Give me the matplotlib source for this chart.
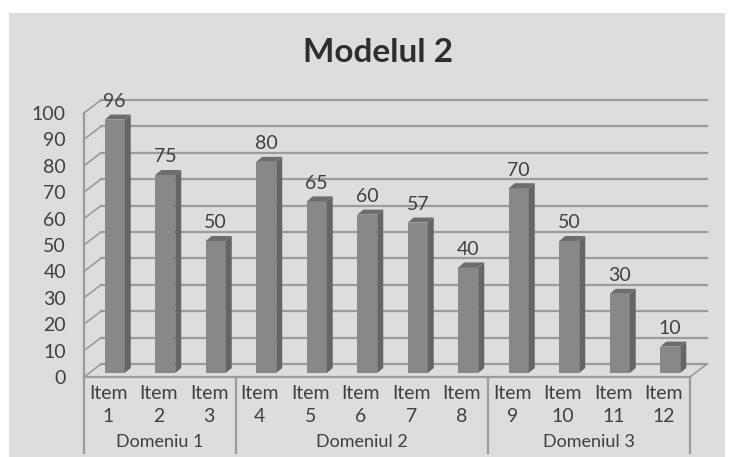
import matplotlib
matplotlib.use("Agg")
import matplotlib.pyplot as plt
from matplotlib.patches import Polygon, Rectangle

plt.rcParams["font.family"] = ["Lato", "DejaVu Sans"]

ITEMS = ["Item\n1", "Item\n2", "Item\n3", "Item\n4", "Item\n5", "Item\n6",
         "Item\n7", "Item\n8", "Item\n9", "Item\n10", "Item\n11", "Item\n12"]
VALUES = [96, 75, 50, 80, 65, 60, 57, 40, 70, 50, 30, 10]
DOMAINS = ["Domeniu 1", "Domeniul 2", "Domeniul 3"]
DOMAIN_SIZES = [3, 5, 4]
YTICKS = [0, 10, 20, 30, 40, 50, 60, 70, 80, 90, 100]
TITLE = "Modelul 2"

W, H = 736, 457
TEXT = "#404040"
LINE = "#9a9b9d"
FRONT = "#87888a"
SIDE = "#646567"
TOP = "#6c6d6f"
BG = "#dcddde"

# plot box in pixels, front plane
LEFT, RIGHT = 84, 690
Y0, Y100 = 377, 113

PX_X = (RIGHT - LEFT) / 12
PX_Y = (Y0 - Y100) / 100
DEPTH_X = 17 / PX_X
DEPTH_Y = 13 / PX_Y
BAR_SHIFT = 5.5 / PX_X
BAR_BASE = 4 / PX_Y
BAR_W = 20 / PX_X
BAR_DX = 6 / PX_X
BAR_DY = 5 / PX_Y


def main():
    fig = plt.figure(figsize=(W / 100, H / 100), dpi=100, facecolor="white")
    fig.add_artist(Rectangle((9 / W, 0), 716 / W, 1 - 13 / H, transform=fig.transFigure,
                             facecolor=BG, edgecolor="none", zorder=-1))

    ax = fig.add_axes([LEFT / W, 1 - Y0 / H, (RIGHT - LEFT) / W, (Y0 - Y100) / H])
    ax.set_xlim(0, 12)
    ax.set_ylim(0, 100)
    ax.patch.set_alpha(0)
    for spine in ax.spines.values():
        spine.set_visible(False)
    ax.set_xticks([])
    ax.set_yticks(YTICKS)
    ax.set_yticklabels([str(t) for t in YTICKS], fontsize=14, color=TEXT)
    ax.tick_params(axis="y", length=0, pad=13)

    # gridlines on the back wall plus the slanted bits on the side wall
    for t in YTICKS:
        ax.plot([DEPTH_X, 12 + DEPTH_X], [t + DEPTH_Y, t + DEPTH_Y], color=LINE, lw=1.6,
                clip_on=False, zorder=1)
        ax.plot([0, DEPTH_X], [t, t + DEPTH_Y], color=LINE, lw=1.2, clip_on=False, zorder=1)
    ax.plot([12, 12 + DEPTH_X], [0, DEPTH_Y], color=LINE, lw=1.2, clip_on=False, zorder=1)
    ax.plot([0, 12], [0, 0], color=LINE, lw=1.6, clip_on=False, zorder=2)
    ax.plot([0, 0], [0, 100], color=LINE, lw=1.6, clip_on=False, zorder=2)

    # bars
    for i, v in enumerate(VALUES):
        x = i + 0.5 + BAR_SHIFT
        l, r = x - BAR_W / 2, x + BAR_W / 2
        top = v + BAR_BASE
        ax.bar(x, v, bottom=BAR_BASE, width=BAR_W, color=FRONT, zorder=3, clip_on=False)
        ax.add_patch(Polygon([(r, BAR_BASE), (r + BAR_DX, BAR_BASE + BAR_DY),
                              (r + BAR_DX, top + BAR_DY), (r, top)],
                             facecolor=SIDE, edgecolor="none", zorder=3, clip_on=False))
        ax.add_patch(Polygon([(l, top), (l + BAR_DX, top + BAR_DY),
                              (r + BAR_DX, top + BAR_DY), (r, top)],
                             facecolor=TOP, edgecolor="none", zorder=3, clip_on=False))
        ax.text(x, top + 18 / PX_Y, str(v), ha="center", va="center",
                fontsize=14, color=TEXT, zorder=5, clip_on=False)

    # two level category axis below the plot
    trans = ax.get_xaxis_transform()
    for i, item in enumerate(ITEMS):
        first, second = item.split("\n")
        ax.text(i + 0.5 - 1 / PX_X, -16.5 / (Y0 - Y100), first, transform=trans, ha="center",
                va="center", fontsize=14, color=TEXT, clip_on=False)
        ax.text(i + 0.5 - 1 / PX_X, -40 / (Y0 - Y100), second, transform=trans, ha="center",
                va="center", fontsize=14, color=TEXT, clip_on=False)

    start = 0
    bottom_frac = -76 / (Y0 - Y100)
    ax.plot([0, 0], [0, bottom_frac], transform=trans, color=LINE, lw=1.6, clip_on=False)
    for name, size in zip(DOMAINS, DOMAIN_SIZES):
        end = start + size
        ax.plot([end, end], [0, bottom_frac], transform=trans, color=LINE, lw=1.6, clip_on=False)
        ax.text((start + end) / 2, -65 / (Y0 - Y100), name, transform=trans, ha="center",
                va="center", fontsize=13, color=TEXT, clip_on=False)
        start = end

    fig.text(378 / W, 1 - 52 / H, TITLE, ha="center", va="center", fontsize=24,
             fontweight="bold", color="#2e2e2e")

    fig.savefig("out.png", dpi=100, facecolor="white")


if __name__ == "__main__":
    main()
